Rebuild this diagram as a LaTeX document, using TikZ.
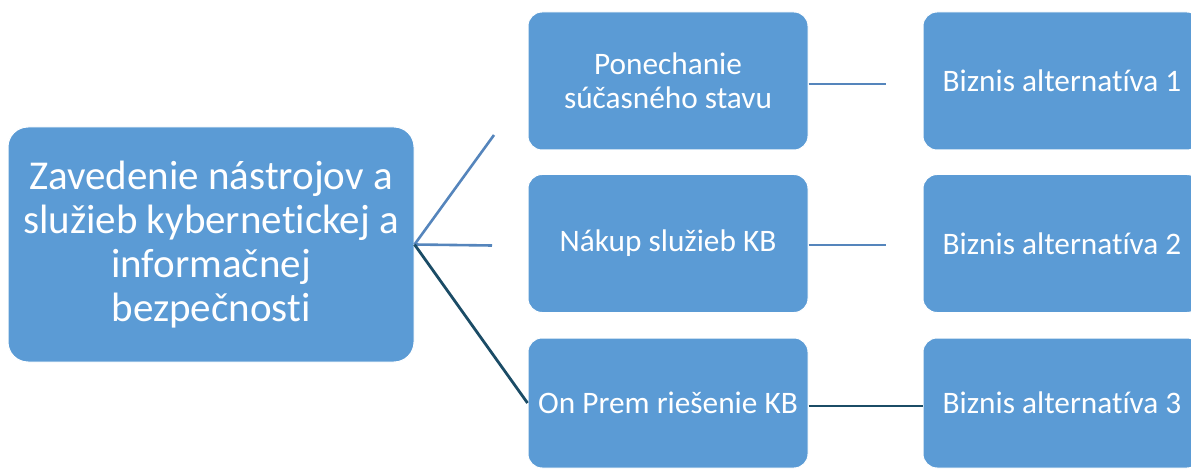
\documentclass[tikz,border=0pt]{standalone}
\usepackage{fontspec}
\setmainfont{Carlito}[Ligatures={NoCommon}]
\definecolor{boxblue}{HTML}{5B9BD5}
\definecolor{lightline}{HTML}{5585BC}
\definecolor{darkline}{HTML}{1B4C66}
\begin{document}
\begin{tikzpicture}[x=1pt,y=-1pt,
  bigbox/.style={draw=white,line width=1pt,fill=boxblue,rounded corners=20pt,text=white,align=center,
    minimum width=406pt,minimum height=235pt,inner sep=0pt,font=\fontsize{41}{44}\selectfont},
  smallbox/.style={draw=white,line width=1pt,fill=boxblue,rounded corners=14pt,text=white,align=center,
    minimum width=280pt,minimum height=138pt,inner sep=0pt,font=\fontsize{31.3}{34}\selectfont},
  lightconn/.style={draw=lightline,line width=2.6pt},
  darkconn/.style={draw=darkline,line width=2.8pt}]
\useasboundingbox (0,0) rectangle (1191,470);
\clip (0,0) rectangle (1191,470);
\node[bigbox] (root) at (211,244.5) {Zavedenie nástrojov a\\služieb kybernetickej a\\informačnej\\bezpečnosti};
\node[smallbox] (m1) at (668,81) {Ponechanie\\súčasného stavu};
\node[smallbox] (m2) at (668,243.5) {Nákup služieb KB};
\node[smallbox,minimum height=130pt] (m3) at (668,403) {On Prem riešenie KB};
\node[smallbox,minimum width=278pt] (r1) at (1062,81) {Biznis alternatíva 1};
\node[smallbox,minimum width=278pt] (r2) at (1062,243.5) {Biznis alternatíva 2};
\node[smallbox,minimum width=278pt,minimum height=130pt] (r3) at (1062,403) {Biznis alternatíva 3};
\coordinate (a1) at (494,135);
\coordinate (a2) at (492,245.5);
\coordinate (b1) at (886,84);
\coordinate (b2) at (886,245);
\coordinate (b3) at (922,406);
\draw[lightconn] (root.east) -- (a1);
\draw[lightconn] (root.east) -- (a2);
\draw[darkconn] (root.east) -- (m3.west);
\draw[lightconn] (m1.east |- b1) -- (b1);
\draw[lightconn] (m2.east |- b2) -- (b2);
\draw[darkconn] (m3.east |- b3) -- (r3.west |- b3);
\end{tikzpicture}
\end{document}
